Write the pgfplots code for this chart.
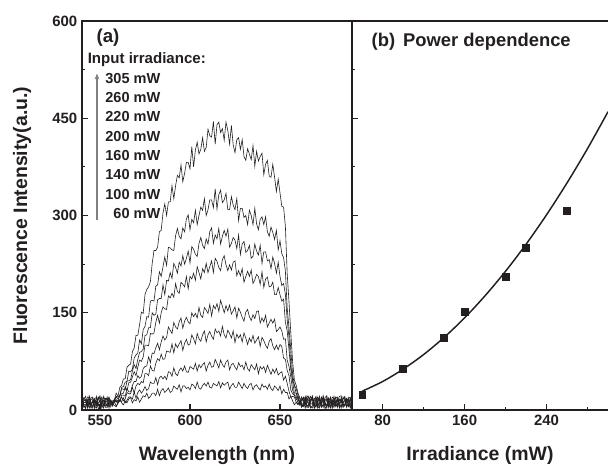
\documentclass[border=0pt]{standalone}
\usepackage{fontspec}
\setmainfont{Liberation Sans}
\usepackage{pgfplots}
\usepackage{pgfplotstable}
\pgfplotsset{compat=1.18}
\usetikzlibrary{arrows.meta}

% fluorescence spectra, one column per input irradiance (mW)
\pgfplotstableread{
wl  p60 p100 p140 p160 p200 p220 p260 p305
540 12 5 18 9 3 15 7 20
541 6 14 9 17 12 4 19 8
542 4 16 8 21 11 6 14 2
543 15 3 13 6 20 10 5 16
544 17 9 3 13 19 8 22 10
545 8 19 11 4 7 16 12 3
546 7 20 12 5 14 18 3 15
547 13 6 18 15 9 2 17 11
548 14 3 19 10 6 21 11 8
549 2 12 6 20 16 9 7 19
550 5 13 7 17 22 4 16 12
551 18 10 14 8 3 13 20 6
552 19 8 15 3 9 13 6 21
553 7 17 4 12 18 6 11 14
554 9 18 4 14 16 7 20 5
555 16 5 12 20 8 19 3 10
556 13 10 15 5 13 14 15 14
557 10 8 6 13 11 7 8 14
558 7 13 13 15 17 14 16 15
559 5 6 16 12 13 20 21 26
560 12 10 11 15 14 17 20 21
561 16 15 15 13 23 21 22 35
562 11 13 20 23 25 33 35 38
563 8 19 14 23 26 32 36 48
564 14 11 17 21 36 31 43 48
565 11 15 27 33 30 45 44 66
566 17 20 25 28 42 45 60 69
567 19 20 25 28 43 47 59 71
568 11 17 35 38 51 60 63 90
569 16 28 26 44 59 70 80 96
570 14 18 37 44 53 64 85 115
571 20 27 41 53 66 78 88 115
572 12 31 39 49 77 89 108 132
573 17 26 44 52 75 90 102 151
574 22 30 42 64 82 94 124 149
575 20 36 56 67 100 115 129 178
576 26 30 56 68 100 116 144 186
577 18 33 53 82 99 127 143 190
578 21 43 68 73 118 127 168 198
579 26 41 61 88 117 150 169 226
580 26 41 60 87 119 146 168 246
581 22 50 72 96 135 148 191 246
582 32 39 79 103 146 170 193 251
583 22 50 76 93 134 172 213 275
584 30 52 86 105 150 172 206 277
585 33 48 78 114 159 193 221 304
586 27 52 79 108 156 178 236 318
587 30 47 91 112 155 200 223 300
588 34 59 90 128 176 199 251 321
589 27 58 89 123 173 212 250 321
590 29 52 102 118 180 203 247 346
591 37 65 88 135 174 226 246 326
592 34 56 102 128 195 220 269 346
593 32 53 96 125 183 211 280 362
594 39 61 102 136 180 228 268 358
595 28 65 107 142 197 222 264 378
596 37 60 92 126 194 238 281 352
597 37 68 103 137 190 225 275 365
598 33 59 109 143 206 234 295 382
599 35 58 100 136 187 245 301 382
600 31 67 102 133 206 227 278 372
601 40 65 116 150 202 252 294 406
602 38 63 110 144 211 248 289 375
603 33 72 102 149 200 240 308 401
604 43 60 118 142 221 237 286 413
605 34 70 110 158 212 257 300 395
606 32 65 106 146 202 266 313 402
607 38 70 116 143 218 254 308 420
608 41 73 122 158 212 249 326 399
609 37 60 105 154 226 264 300 405
610 43 69 116 149 212 256 309 433
611 35 74 121 163 221 275 324 423
612 34 66 114 145 230 281 324 421
613 41 67 109 161 212 257 312 445
614 39 78 125 156 234 270 341 410
615 37 72 119 164 229 264 310 440
616 44 65 122 152 220 280 332 444
617 34 77 114 169 215 256 339 428
618 42 70 129 160 232 268 320 434
619 38 66 116 150 238 277 324 416
620 41 74 111 161 224 268 334 444
621 43 77 123 153 215 279 309 431
622 32 62 118 162 224 251 309 410
623 38 70 111 148 216 257 329 439
624 41 72 122 153 228 266 316 409
625 35 66 104 159 230 262 309 397
626 35 62 117 142 207 249 326 417
627 43 73 111 157 215 270 292 420
628 38 67 116 151 207 240 311 402
629 33 69 105 143 218 256 311 417
630 41 62 119 137 197 260 297 391
631 36 74 111 151 206 243 300 385
632 33 64 101 155 214 246 286 403
633 39 60 111 144 206 254 308 395
634 41 70 105 138 216 234 300 386
635 31 66 115 147 195 237 286 408
636 37 62 103 141 201 256 311 376
637 39 71 108 152 209 245 287 399
638 34 56 113 153 206 239 278 384
639 31 67 98 134 194 254 294 391
640 40 63 112 142 213 226 298 396
641 35 67 107 136 189 244 286 363
642 37 58 100 146 202 244 298 379
643 32 69 95 128 205 230 275 385
644 40 62 106 134 190 232 268 361
645 33 55 110 140 191 218 282 359
646 30 63 99 134 197 236 274 379
647 37 57 93 140 178 226 263 359
648 34 64 100 121 178 211 277 337
649 30 54 93 124 189 228 247 356
650 37 57 101 128 178 206 261 335
651 25 59 98 122 168 192 241 314
652 32 46 80 109 171 195 235 313
653 27 52 78 110 135 178 214 283
654 27 41 61 77 122 139 157 210
655 17 29 53 67 93 112 127 167
656 21 20 31 51 62 71 93 119
657 14 21 25 31 44 46 56 75
658 8 20 23 23 26 38 38 46
659 12 12 16 21 26 25 33 38
660 9 8 18 11 19 18 23 26
661 13 12 7 9 10 19 12 19
662 4 17 9 20 12 6 15 10
663 10 18 6 14 20 5 16 9
664 19 8 14 3 17 21 7 13
665 5 15 20 11 6 13 22 4
666 10 21 5 16 8 12 19 4
667 17 4 13 21 15 3 9 16
668 16 3 20 11 22 7 10 18
669 8 12 7 5 11 18 14 2
670 6 14 12 19 4 17 21 9
671 13 20 3 9 16 8 5 19
672 21 9 17 5 14 10 3 16
673 4 15 11 18 7 20 13 8
674 8 18 4 13 20 15 12 22
675 16 2 19 7 10 6 17 11
676 14 6 22 9 7 19 16 3
677 9 17 8 15 19 12 4 14
678 3 16 11 18 13 5 20 11
679 20 7 14 2 9 16 10 6
680 18 10 7 14 21 12 4 17
681 6 19 12 20 5 8 15 10
682 9 20 15 4 10 18 13 7
683 15 8 3 12 17 11 21 16
684 15 5 19 12 16 3 22 14
685 4 13 10 17 8 20 6 9
686 7 13 6 21 9 14 8 19
687 18 4 16 6 13 7 17 11
688 13 19 10 8 18 6 15 5
689 10 11 5 14 20 16 3 18
690 5 11 17 15 3 20 9 12
}\spectra

% peak intensity vs irradiance
\pgfplotstableread{
irr fl
60  23
100 63
140 112
160 152
200 205
220 250
260 308
}\peaks

% fitted curve
\pgfplotstableread{
irr fit
60  29
80  44
100 63
120 85.6
140 112
160 142.2
180 176.3
200 214.1
220 255.7
240 301.1
260 350.3
280 403.2
300 460
}\fitline

\definecolor{ink}{HTML}{231F20}

\pgfplotsset{
  panel/.style={
    scale only axis,
    height=291.75pt,
    ymin=0, ymax=600,
    ytick={0,150,300,450,600},
    minor y tick num=1,
    tick align=inside,
    major tick length=4.5pt,
    minor tick length=2.5pt,
    axis line style={ink, line width=1.1pt},
    tick style={ink, line width=0.9pt},
    /pgf/number format/assume math mode=true,
    tick label style={font=\bfseries\fontsize{11.2}{13}\selectfont, text=ink},
    every axis x label/.style={at={(axis description cs:0.5,-0.118)}, anchor=center,
      font=\bfseries\fontsize{14.6}{17}\selectfont, text=ink},
    every axis y label/.style={at={(axis description cs:-0.222,0.5)}, rotate=90, anchor=center,
      font=\bfseries\fontsize{14.6}{17}\selectfont, text=ink},
  },
}
\tikzset{irr/.style={anchor=east, font=\bfseries\fontsize{10.9}{13}\selectfont, text=ink}}

\begin{document}
\begin{tikzpicture}
\begin{axis}[panel,
  name=pa,
  at={(0pt,0pt)}, anchor=south west,
  width=202.5pt,
  xmin=540, xmax=690,
  xtick={550,600,650},
  xtick pos=bottom, ytick pos=left,
  xlabel={Wavelength (nm)},
  ylabel={Fluorescence Intensity(a.u.)},
]
\pgfplotsinvokeforeach{p60,p100,p140,p160,p200,p220,p260,p305}{
  \addplot[ink, line width=0.45pt, mark=none] table[x=wl, y=#1] {\spectra};
}
\node[anchor=west, font=\bfseries\fontsize{14}{16}\selectfont, text=ink]
  at (axis cs:545.5,574) {(a)};
\node[anchor=west, font=\bfseries\fontsize{11.3}{13}\selectfont, text=ink]
  at (axis cs:540.6,540) {Input irradiance:};
\draw[gray, line width=0.9pt, -{Stealth[length=4.5pt,width=3.5pt]}]
  (axis cs:548.3,293) -- (axis cs:548.3,519);
\node[irr] at (axis cs:586.1,510.8) {305 mW};
\node[irr] at (axis cs:586.1,481.5) {260 mW};
\node[irr] at (axis cs:586.1,452.2) {220 mW};
\node[irr] at (axis cs:586.1,421.3) {200 mW};
\node[irr] at (axis cs:586.1,392.0) {160 mW};
\node[irr] at (axis cs:586.1,362.7) {140 mW};
\node[irr] at (axis cs:586.1,331.8) {100 mW};
\node[irr] at (axis cs:586.1,302.5) {60 mW};
\end{axis}

\begin{axis}[panel,
  name=pb,
  at={(202.5pt,0pt)}, anchor=south west,
  width=192pt,
  xmin=50, xmax=300,
  xtick={80,160,240},
  minor xtick={120,200,280},
  axis x line*=box, axis y line*=left,
  xtick pos=bottom, ytick pos=left,
  yticklabels={},
  xlabel={Irradiance (mW)},
]
\addplot[ink, line width=1.1pt, smooth, mark=none] table[x=irr, y=fit] {\fitline};
\addplot[ink, only marks, mark=square*, mark size=2.6pt] table[x=irr, y=fl] {\peaks};
\node[anchor=west, font=\bfseries\fontsize{13.8}{16}\selectfont, text=ink]
  at (axis cs:64.6,568) {(b)\hspace{0.15em} Power dependence};
\end{axis}

\pgfresetboundingbox
\path (-61.5pt,-42pt) rectangle (394.5pt,307.5pt);
\end{tikzpicture}
\end{document}
